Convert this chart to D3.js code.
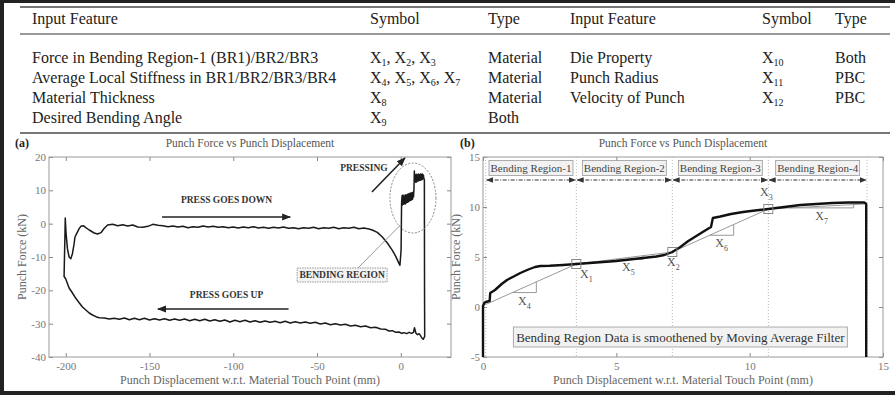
<!DOCTYPE html>
<html><head><meta charset="utf-8">
<script src="https://cdn.jsdelivr.net/npm/d3@7"></script>
<style>
html,body{margin:0;padding:0;background:#fff;}
svg{display:block;font-family:"Liberation Serif","Times New Roman",serif;}
</style></head><body>
<svg id="c" width="895" height="395"></svg>
<script>
// ---------------- DATA ----------------
const tableHeader = ["Input Feature", "Symbol", "Type", "Input Feature", "Symbol", "Type"];
const leftFeatures = ["Force in Bending Region-1 (BR1)/BR2/BR3", "Average Local Stiffness in BR1/BR2/BR3/BR4", "Material Thickness", "Desired Bending Angle"];
const leftSymbols = [[1, 2, 3], [4, 5, 6, 7], [8], [9]];
const leftTypes = ["Material", "Material", "Material", "Both"];
const rightFeatures = ["Die Property", "Punch Radius", "Velocity of Punch"];
const rightSymbols = [[10], [11], [12]];
const rightTypes = ["Both", "PBC", "PBC"];

const titleA = "Punch Force vs Punch Displacement";
const titleB = "Punch Force vs Punch Displacement";
const xLabel = "Punch Displacement w.r.t. Material Touch Point (mm)";
const yLabel = "Punch Force (kN)";

const aXTicks = [-200, -150, -100, -50, 0];
const aYTicks = [-40, -30, -20, -10, 0, 10, 20];
const bXTicks = [0, 5, 10, 15];
const bYTicks = [-5, 0, 5, 10, 15];

// (a) full press cycle: loading, pressing, unloading
const aDisp = [
  -201.0, -200.8, -200.5, -200.3, -199.8, -199.0, -198.0, -197.0, -196.0, -195.0, -194.5, -193.5, -192.0, -191.0, -189.5, -188.0, -186.0, -183.0, -181.0, -179.0, -177.0, -175.0,
  -172, -169, -166, -163, -160, -157, -154, -151, -148, -145, -142, -139, -136, -133, -130, -127, -124, -121, -118, -115, -112, -109, -106, -103, -100,
  -97, -94, -91, -88, -85, -82, -79, -76, -73, -70, -67, -64, -61, -58, -55, -52, -49, -46, -43, -40, -37, -34, -31, -28, -25, -22, -19,
  -17, -14, -11, -8, -5, -3, -1, -0.5, 0.2,
  0.5, 0.8, 1.0, 1.3, 1.6, 1.9, 2.2, 2.5, 2.8, 3.1, 3.4, 3.7, 4.0, 4.3, 4.6, 4.9, 5.2, 5.5, 5.8, 6.1, 6.4, 6.7, 7.0, 7.3, 7.6, 7.9,
  8.1, 8.4, 8.7, 9.0, 9.3, 9.6, 9.9, 10.2, 10.5, 10.8, 11.1, 11.4, 11.7, 12.0, 12.3, 12.6, 12.9, 13.2, 13.5, 13.8,
  14.1, 14.2, 14.3, 13.4, 12.6, 11.8, 11.0, 10.0, 9.0, 8.2, 7.6, 6.5, 5.0, 3.5, 2.0, 0.5,
  -1, -3, -5, -7, -9, -12, -15, -18, -21, -24, -27, -30, -33, -36, -39, -42, -45, -48, -51, -54, -57, -60, -63, -66, -69, -72, -75, -78,
  -81, -84, -87, -90, -93, -96, -99, -102, -105, -108, -111, -114, -117, -120, -123, -126, -129, -132, -135, -138, -141, -144, -147, -150,
  -153, -156, -159, -162, -165, -168, -171, -174, -177, -180, -182, -184, -186, -188, -190, -192, -194, -196, -198, -200, -201
];
const aForce = [
  -16.0, -11.0, -4.0, 1.7, -3.0, -7.5, -10.0, -10.5, -9.0, -6.0, -4.0, -3.0, -1.5, -0.8, -0.6, -1.2, -1.9, -2.8, -3.1, -2.7, -1.4, -0.4,
  -0.2, -0.6, -0.3, -0.7, -0.4, -1.0, -1.1, -0.8, -0.2, -0.5, -0.6, -0.9, -0.7, -1.0, -0.8, -1.2, -0.9, -1.1, -0.7, -1.0, -0.8, -1.1, -0.9, -1.2, -1.0,
  -1.3, -1.0, -1.2, -0.9, -1.3, -1.1, -1.4, -1.1, -1.3, -1.0, -1.4, -1.2, -1.5, -1.2, -1.4, -1.1, -1.5, -1.2, -1.4, -1.1, -1.5, -1.2, -1.4, -1.1, -1.5, -1.3, -1.6,
  -1.9, -2.6, -4.0, -5.8, -8.0, -9.8, -12.0, -12.5, -8.0,
  6.2, 8.4, 5.6, 8.6, 5.8, 8.2, 6.0, 8.5, 5.9, 8.7, 6.3, 8.6, 6.4, 8.9, 6.6, 9.0, 6.8, 9.1, 7.0, 9.2, 7.1, 9.3, 7.3, 9.4, 8.0, 10.5,
  15.8, 12.8, 14.6, 12.4, 14.8, 12.6, 14.6, 12.8, 14.9, 12.9, 14.7, 13.0, 14.9, 13.1, 14.8, 13.2, 14.9, 13.4, 14.6, 13.5,
  13.2, -20.0, -33.8, -34.7, -34.3, -33.6, -33.0, -33.3, -32.8, -31.2, -32.6, -32.9, -32.6, -33.0, -32.7, -32.9,
  -32.5, -32.6, -32.1, -32.2, -31.7, -31.6, -31.1, -31.2, -30.7, -30.9, -30.5, -30.7, -30.2, -30.4, -30.0, -30.3, -29.8, -30.1, -29.6, -29.9, -29.5, -29.8, -29.4, -29.8, -29.3, -29.7, -29.3, -29.6,
  -29.2, -29.6, -29.1, -29.5, -29.0, -29.4, -29.0, -29.5, -28.9, -29.3, -28.8, -29.2, -28.7, -29.1, -28.7, -29.1, -28.6, -29.0, -28.6, -29.0, -28.5, -28.9, -28.5, -28.9,
  -28.4, -28.8, -28.4, -28.8, -28.3, -28.7, -28.4, -28.6, -28.3, -28.2, -27.9, -27.4, -26.8, -25.9, -25.0, -23.7, -22.4, -20.8, -19.3, -16.6, -15.8
];

// (b) smoothed bending region
const bDisp = [0, 0, 0.05, 0.1, 0.25, 0.27, 0.45, 0.7, 0.9, 1.15, 1.4, 1.7, 1.95, 2.15, 2.5, 3.0, 3.5, 4.0, 4.5, 5.0, 5.5, 6.0, 6.5, 6.8, 7.1, 7.4, 7.7, 8.0, 8.3, 8.55, 8.62, 8.9, 9.3, 9.75, 10.2, 10.7, 11.3, 11.9, 12.5, 13.1, 13.7, 14.3, 14.37, 14.37];
const bForce = [-5, 0.1, 0.4, 0.5, 0.6, 1.4, 1.7, 2.3, 2.7, 3.05, 3.4, 3.75, 4.0, 4.1, 4.12, 4.2, 4.3, 4.4, 4.5, 4.6, 4.75, 4.9, 5.05, 5.2, 5.5, 6.0, 6.6, 7.1, 7.6, 8.0, 8.9, 9.05, 9.3, 9.5, 9.65, 9.8, 10.0, 10.2, 10.3, 10.4, 10.45, 10.45, 10.3, -5];

const regionNames = ["Bending Region-1", "Bending Region-2", "Bending Region-3", "Bending Region-4"];
const regionEdges = [0.1, 3.5, 7.1, 10.7, 14.4];
// force features X1..X3 (end of regions 1..3)
const featureNames = [1, 2, 3];
const featureDisp = [3.5, 7.1, 10.7];
const featureForce = [4.3, 5.5, 9.8];
// stiffness chords X4..X7
const stiffNames = [4, 5, 6, 7];
const chordStartDisp = [0.1, 3.5, 7.1, 10.7];
const chordStartForce = [0.25, 4.3, 5.5, 9.8];
const chordEndDisp = [3.5, 7.1, 10.7, 14.3];
const chordEndForce = [4.3, 5.5, 9.8, 10.3];
const triFrom = [1.1, 4.9, 8.5, 11.5];
const triTo = [2.0, 6.0, 9.4, 13.9];
const filterNote = "Bending Region Data is smoothened by Moving Average Filter";

// ---------------- DRAW ----------------
const svg = d3.select("#c");
const FONT = '"Liberation Serif","Times New Roman",serif';
const defs = svg.append("defs");
function marker(id, color, w) {
  defs.append("marker").attr("id", id).attr("viewBox", "0 0 10 10").attr("refX", 9).attr("refY", 5)
    .attr("markerWidth", w).attr("markerHeight", w).attr("orient", "auto-start-reverse")
    .attr("markerUnits", "userSpaceOnUse")
    .append("path").attr("d", "M0,1 L10,5 L0,9 z").attr("fill", color);
}
marker("arrA", "#222", 9);
marker("arrB", "#333", 7);

// outer frame
svg.append("rect").attr("x", 0).attr("y", 0).attr("width", 895).attr("height", 3).attr("fill", "#222");
svg.append("rect").attr("x", 0).attr("y", 0).attr("width", 4).attr("height", 395).attr("fill", "#222");
svg.append("rect").attr("x", 0).attr("y", 391).attr("width", 895).attr("height", 4).attr("fill", "#222");

// ---- table ----
const tbl = svg.append("g").attr("font-size", 16).attr("fill", "#222");
const colX = [32, 370, 488, 570, 762, 835];
const headY = 18, rowY = [57, 77, 97, 117];
const BL = 5.6; // baseline offset from row centre
[[7, 2], [34, 1.5], [133, 2]].forEach(([y, w]) =>
  tbl.append("line").attr("x1", 20).attr("x2", 890).attr("y1", y).attr("y2", y).attr("stroke", "#777").attr("stroke-width", w));
tableHeader.forEach((h, i) => tbl.append("text").attr("x", colX[i]).attr("y", headY + BL).text(h));
function symbolText(sel, nums) {
  let shift = 0;
  nums.forEach((n, i) => {
    sel.append("tspan").attr("dy", -shift).text((i ? ", " : "") + "X");
    sel.append("tspan").attr("font-size", 10).attr("dy", 3).text(n);
    shift = 3;
  });
}
leftFeatures.forEach((f, i) => {
  tbl.append("text").attr("x", colX[0]).attr("y", rowY[i] + BL).text(f);
  symbolText(tbl.append("text").attr("x", colX[1]).attr("y", rowY[i] + BL), leftSymbols[i]);
  tbl.append("text").attr("x", colX[2]).attr("y", rowY[i] + BL).text(leftTypes[i]);
});
rightFeatures.forEach((f, i) => {
  tbl.append("text").attr("x", colX[3]).attr("y", rowY[i] + BL).text(f);
  symbolText(tbl.append("text").attr("x", colX[4]).attr("y", rowY[i] + BL), rightSymbols[i]);
  tbl.append("text").attr("x", colX[5]).attr("y", rowY[i] + BL).text(rightTypes[i]);
});

// ---- generic panel ----
function panel(x, y, xt, yt, title, tag, tagX) {
  const g = svg.append("g");
  const [x0, x1] = x.range(), [y0, y1] = y.range();
  const fmt = d => String(d);
  const style = a => {
    a.attr("font-family", FONT).attr("font-size", 11);
    a.select(".domain").remove();
    a.selectAll(".tick line").attr("stroke", "#888");
    a.selectAll(".tick text").attr("fill", "#777");
  };
  g.append("g").attr("transform", `translate(0,${y0})`)
    .call(d3.axisBottom(x).tickValues(xt).tickFormat(fmt).tickSizeInner(-4).tickSizeOuter(0).tickPadding(5)).call(style);
  g.append("g").attr("transform", `translate(0,${y1})`)
    .call(d3.axisTop(x).tickValues(xt).tickSizeInner(-4).tickSizeOuter(0).tickFormat("")).call(style);
  g.append("g").attr("transform", `translate(${x0},0)`)
    .call(d3.axisLeft(y).tickValues(yt).tickFormat(fmt).tickSizeInner(-4).tickSizeOuter(0).tickPadding(3)).call(style);
  g.append("g").attr("transform", `translate(${x1},0)`)
    .call(d3.axisRight(y).tickValues(yt).tickSizeInner(-4).tickSizeOuter(0).tickFormat("")).call(style);
  g.append("rect").attr("x", x0).attr("y", y1).attr("width", x1 - x0).attr("height", y0 - y1)
    .attr("fill", "none").attr("stroke", "#999").attr("stroke-width", 1);
  g.append("text").attr("x", (x0 + x1) / 2).attr("y", y1 - 10).attr("text-anchor", "middle")
    .attr("font-size", 11.5).attr("fill", "#555").text(title);
  g.append("text").attr("x", tagX).attr("y", y1 - 10).attr("font-size", 12).attr("font-weight", "bold")
    .attr("fill", "#222").text(tag);
  g.append("text").attr("x", (x0 + x1) / 2).attr("y", y0 + 27).attr("text-anchor", "middle")
    .attr("font-size", 12).attr("fill", "#666").text(xLabel);
  g.append("text").attr("transform", `translate(${x0 - 23},${(y0 + y1) / 2}) rotate(-90)`)
    .attr("text-anchor", "middle").attr("font-size", 12).attr("fill", "#666").text(yLabel);
  return g;
}

// ---- chart (a) ----
const ax = d3.scaleLinear().domain([-210, 30]).range([49, 451]);
const ay = d3.scaleLinear().domain([-40, 20]).range([357, 157]);
const gA = panel(ax, ay, aXTicks, aYTicks, titleA, "(a)", 15);
const aPts = aDisp.map((d, i) => [d, aForce[i]]);
gA.append("path").datum(aPts).attr("fill", "none").attr("stroke", "#1a1a1a").attr("stroke-width", 1.5)
  .attr("stroke-linejoin", "round")
  .attr("d", d3.line().x(d => ax(d[0])).y(d => ay(d[1])));

const boldTxt = (g, x, y, t) => g.append("text").attr("x", x).attr("y", y).attr("text-anchor", "middle")
  .attr("dy", "0.35em").attr("font-size", 9.5).attr("font-weight", "bold").attr("fill", "#333").text(t);
boldTxt(gA, ax(-104), ay(7.1), "PRESS GOES DOWN");
gA.append("line").attr("x1", ax(-142.5)).attr("x2", ax(-66)).attr("y1", ay(2)).attr("y2", ay(2))
  .attr("stroke", "#222").attr("stroke-width", 1.6).attr("marker-end", "url(#arrA)");
boldTxt(gA, ax(-104), ay(-21.4), "PRESS GOES UP");
gA.append("line").attr("x1", ax(-67)).attr("x2", ax(-145)).attr("y1", ay(-25.6)).attr("y2", ay(-25.6))
  .attr("stroke", "#222").attr("stroke-width", 1.6).attr("marker-end", "url(#arrA)");
boldTxt(gA, ax(-22), ay(16.7), "PRESSING");
gA.append("line").attr("x1", ax(-17.2)).attr("y1", ay(9.5)).attr("x2", ax(2.5)).attr("y2", ay(19.7))
  .attr("stroke", "#222").attr("stroke-width", 1.6).attr("marker-end", "url(#arrA)");
gA.append("ellipse").attr("cx", ax(7.3)).attr("cy", ay(7.7)).attr("rx", 23).attr("ry", 35)
  .attr("fill", "none").attr("stroke", "#888").attr("stroke-width", 1).attr("stroke-dasharray", "2,1.5");
gA.append("line").attr("x1", ax(-25.5)).attr("y1", ay(-13.3)).attr("x2", ax(0)).attr("y2", ay(-0.3))
  .attr("stroke", "#999").attr("stroke-width", 1);
gA.append("rect").attr("x", ax(-35) - 45).attr("y", ay(-15.4) - 7).attr("width", 90).attr("height", 14)
  .attr("fill", "#f4f4f4").attr("stroke", "#999").attr("stroke-dasharray", "1.5,1");
boldTxt(gA, ax(-35), ay(-15.4), "BENDING REGION");

// ---- chart (b) ----
const bx = d3.scaleLinear().domain([0, 15]).range([483, 883]);
const by = d3.scaleLinear().domain([-5, 15]).range([357, 157]);
const gB = panel(bx, by, bXTicks, bYTicks, titleB, "(b)", 460);

regionEdges.forEach(e => gB.append("line").attr("x1", bx(e)).attr("x2", bx(e)).attr("y1", by(15)).attr("y2", by(-5))
  .attr("stroke", "#aaa").attr("stroke-width", 0.8).attr("stroke-dasharray", "1,2"));
regionNames.forEach((n, i) => {
  const a = regionEdges[i], b = regionEdges[i + 1], cx = bx((a + b) / 2);
  gB.append("rect").attr("x", cx - 42).attr("y", by(13.9) - 7.5).attr("width", 84).attr("height", 15)
    .attr("fill", "#f2f2f2").attr("stroke", "#999").attr("stroke-width", 0.8);
  gB.append("text").attr("x", cx).attr("y", by(13.9)).attr("dy", "0.35em").attr("text-anchor", "middle")
    .attr("font-size", 11).attr("fill", "#444").text(n);
  gB.append("line").attr("x1", bx(a) + 1).attr("x2", bx(b) - 1).attr("y1", by(12.7)).attr("y2", by(12.7))
    .attr("stroke", "#333").attr("stroke-width", 1.1).attr("stroke-dasharray", "4,1.5,1,1.5")
    .attr("marker-start", "url(#arrB)").attr("marker-end", "url(#arrB)");
});

// stiffness chords + triangles
stiffNames.forEach((n, i) => {
  const x0 = chordStartDisp[i], y0 = chordStartForce[i], x1 = chordEndDisp[i], y1 = chordEndForce[i];
  const f = t => y0 + (y1 - y0) * (t - x0) / (x1 - x0);
  gB.append("line").attr("x1", bx(x0)).attr("y1", by(y0)).attr("x2", bx(x1)).attr("y2", by(y1))
    .attr("stroke", "#999").attr("stroke-width", 1);
  const ta = triFrom[i], tb = triTo[i];
  gB.append("path").attr("d", `M${bx(ta)},${by(f(ta))} L${bx(tb)},${by(f(ta))} L${bx(tb)},${by(f(tb))}`)
    .attr("fill", "none").attr("stroke", "#999").attr("stroke-width", 1);
  const lx = bx((ta + tb) / 2), ly = by(f(ta)) + 12;
  const t = gB.append("text").attr("x", lx).attr("y", ly).attr("text-anchor", "middle").attr("font-size", 12).attr("fill", "#555");
  t.append("tspan").text("X");
  t.append("tspan").attr("font-size", 8).attr("dy", 4).text(n);
});

// curve
const bPts = bDisp.map((d, i) => [d, bForce[i]]);
gB.append("path").datum(bPts).attr("fill", "none").attr("stroke", "#111").attr("stroke-width", 2.4)
  .attr("stroke-linejoin", "round")
  .attr("d", d3.line().x(d => bx(d[0])).y(d => by(d[1])));

// force feature markers
featureNames.forEach((n, i) => {
  const px = bx(featureDisp[i]), py = by(featureForce[i]);
  gB.append("rect").attr("x", px - 4.5).attr("y", py - 4.5).attr("width", 9).attr("height", 9)
    .attr("fill", "none").attr("stroke", "#888").attr("stroke-width", 1);
  const above = i === 2;
  const t = gB.append("text").attr("x", px + (above ? -2 : i === 0 ? 10 : 1)).attr("y", above ? py - 13 : py + 14)
    .attr("text-anchor", "middle").attr("font-size", 12).attr("fill", "#555");
  t.append("tspan").text("X");
  t.append("tspan").attr("font-size", 8).attr("dy", 4).text(n);
});

// filter note
const nx = bx(7.4), ny = by(-3.0);
gB.append("rect").attr("x", nx - 167).attr("y", ny - 10).attr("width", 334).attr("height", 20)
  .attr("fill", "#f2f2f2").attr("stroke", "#999").attr("stroke-width", 0.8);
gB.append("text").attr("x", nx).attr("y", ny).attr("dy", "0.35em").attr("text-anchor", "middle")
  .attr("font-size", 13).attr("fill", "#333").text(filterNote);
</script>
</body></html>
